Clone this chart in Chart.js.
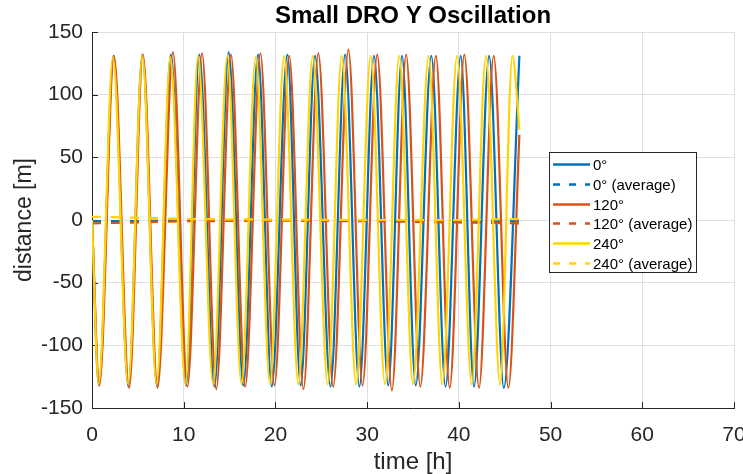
<!DOCTYPE html>
<html lang="en">
<head>
    <meta charset="UTF-8">
    <title>Small DRO Y Oscillation</title>
    <style>
        html, body{
            margin: 0;
            padding: 0;
            background: #fff;
        }
        .chart{
            position: relative;
            width: 743px;
            height: 474px;
        }
    </style>
</head>
<body>
    <div class="chart">
        <canvas id="myChart"></canvas>
    </div>
    <script src="https://cdn.jsdelivr.net/npm/chart.js@4.4.1/dist/chart.umd.min.js"></script>
    <script>
// peaks and troughs (time in h, distance in m)
const t0 = [0, 0.75, 2.35, 3.97, 5.5, 7.08, 8.6, 10.25, 11.7, 13.35, 14.9, 16.5, 18.1, 19.6, 21.3, 22.75, 24.32, 26.0, 27.6, 29.15, 30.75, 32.3, 33.8, 35.3, 37.0, 38.55, 40.2, 41.65, 43.3, 44.9, 46.6];
const y0 = [0, -132, 131, -133, 132, -132, 132, -132, 132, -133, 134, -132, 132, -133, 132, -132, 131, -133, 132, -133, 131, -132, 131, -132, 131, -133, 131, -133, 131, -134, 131];

const t120 = [0, 0.8, 2.4, 4.05, 5.55, 7.15, 8.83, 10.4, 12.0, 13.55, 15.15, 16.7, 18.36, 19.9, 21.5, 23.05, 24.68, 26.3, 27.96, 29.5, 31.1, 32.7, 34.25, 35.8, 37.5, 39.0, 40.6, 42.2, 43.8, 45.4, 46.6];
const y120 = [0, -132, 131, -134, 132, -134, 134, -133, 133, -135, 132, -133, 133, -132, 131, -135, 133, -133, 136, -132, 132, -136, 132, -133, 131, -134, 132, -134, 131, -134, 68];

const t240 = [0, 0.73, 2.29, 3.95, 5.49, 7.05, 8.54, 10.2, 11.56, 13.2, 14.75, 16.3, 17.85, 19.4, 20.95, 22.5, 24.07, 25.7, 27.23, 28.8, 30.39, 31.95, 33.5, 35.0, 36.7, 38.2, 39.8, 41.4, 42.95, 44.5, 45.84, 46.6];
const y240 = [0, -131, 130, -131, 131, -131, 130, -131, 131, -131, 131, -131, 130, -131, 131, -131, 131, -131, 131, -131, 131, -131, 131, -131, 131, -131, 131, -131, 131, -131, 131, 72];

// running averages
const tAvg = [0, 5, 10, 20, 30, 40, 46.6];
const avg0 = [-1, -0.8, -0.3, 0, 0, -0.5, -1];
const avg120 = [-2.7, -2, -1, -0.5, -1, -2, -2.7];
const avg240 = [2.6, 1.8, 0.8, 0.3, 0, 0, 0.8];

const xTicks = [0, 10, 20, 30, 40, 50, 60, 70];
const yTicks = [-150, -100, -50, 0, 50, 100, 150];

const labels = ["0°", "0° (average)", "120°", "120° (average)", "240°", "240° (average)"];
const colors = ["#0072BD", "#D95319", "#FFD400"];

const FONT = "'Liberation Sans', Arial, sans-serif";
const INK = "#262626";

const pts = (ts, ys) => ts.map((t, i) => ({x: t, y: ys[i]}));

function line(label, color, data, dashed, order){
    return {
        label: label,
        data: data,
        borderColor: color,
        backgroundColor: color,
        borderWidth: 2.2,
        borderDash: dashed ? [9, 10] : [],
        pointRadius: 0,
        fill: false,
        cubicInterpolationMode: dashed ? "default" : "monotone",
        tension: 0,
        order: order,
    };
}

const datasets = [
    line(labels[0], colors[0], pts(t0, y0), false, 5),
    line(labels[1], colors[0], pts(tAvg, avg0), true, 4),
    line(labels[2], colors[1], pts(t120, y120), false, 3),
    line(labels[3], colors[1], pts(tAvg, avg120), true, 2),
    line(labels[4], colors[2], pts(t240, y240), false, 1),
    line(labels[5], colors[2], pts(tAvg, avg240), true, 0),
];

// little inward tick marks, matlab style
const axisTicks = {
    id: "axisTicks",
    beforeDatasetsDraw(chart){
        const {ctx, chartArea: a, scales: {x, y}} = chart;
        ctx.save();
        ctx.strokeStyle = INK;
        ctx.lineWidth = 1;
        ctx.beginPath();
        xTicks.forEach(v => {
            const px = Math.round(x.getPixelForValue(v)) + 0.5;
            ctx.moveTo(px, a.bottom);
            ctx.lineTo(px, a.bottom - 6);
        });
        yTicks.forEach(v => {
            const py = Math.round(y.getPixelForValue(v)) + 0.5;
            ctx.moveTo(a.left, py);
            ctx.lineTo(a.left + 6, py);
        });
        ctx.stroke();
        ctx.restore();
    }
};

// boxed legend inside the axes
const boxLegend = {
    id: "boxLegend",
    afterDraw(chart){
        const ctx = chart.ctx;
        const L = 549.5, T = 152.5, W = 147, H = 120;
        ctx.save();
        ctx.fillStyle = "#fff";
        ctx.fillRect(L, T, W, H);
        ctx.strokeStyle = INK;
        ctx.lineWidth = 1;
        ctx.strokeRect(L, T, W, H);
        ctx.font = "15px " + FONT;
        ctx.textBaseline = "middle";
        ctx.textAlign = "left";
        chart.data.datasets.forEach((ds, i) => {
            const yy = Math.round(164 + i * 19.8) + 0.5;
            ctx.strokeStyle = ds.borderColor;
            ctx.lineWidth = 2.5;
            ctx.setLineDash(ds.borderDash.length ? [7, 9] : []);
            ctx.beginPath();
            ctx.moveTo(553, yy);
            ctx.lineTo(590, yy);
            ctx.stroke();
            ctx.setLineDash([]);
            ctx.fillStyle = "#000";
            ctx.fillText(ds.label, 593, yy + 1);
        });
        ctx.restore();
    }
};

const ctx = document.getElementById("myChart").getContext("2d");

const myChart = new Chart(ctx, {
    type: "line",
    data: {datasets: datasets},
    plugins: [axisTicks, boxLegend],
    options: {
        responsive: true,
        maintainAspectRatio: false,
        animation: false,
        parsing: false,
        layout: {padding: {left: 0, right: 9, top: 0, bottom: 0}},
        plugins: {
            legend: {display: false},
            tooltip: {enabled: false},
            title: {
                display: true,
                text: "Small DRO Y Oscillation",
                color: "#000",
                fullSize: false,
                font: {family: FONT, size: 24, weight: "bold", lineHeight: 0.9},
                padding: {top: 6, bottom: 4.4},
            },
        },
        scales: {
            x: {
                type: "linear",
                min: 0,
                max: 70,
                afterBuildTicks: s => { s.ticks = xTicks.map(v => ({value: v})); },
                afterFit: s => { s.height = 66; s.paddingLeft = 0; s.paddingRight = 0; },
                grid: {color: "#dfdfdf", drawTicks: false},
                border: {color: INK, width: 1},
                ticks: {color: INK, font: {family: FONT, size: 21}, padding: 15, maxRotation: 0, autoSkip: false},
                title: {
                    display: true,
                    text: "time [h]",
                    color: INK,
                    font: {family: FONT, size: 24, lineHeight: 0.8},
                    padding: {top: 0, bottom: 2.4},
                },
            },
            y: {
                type: "linear",
                min: -150,
                max: 150,
                afterBuildTicks: s => { s.ticks = yTicks.map(v => ({value: v})); },
                afterFit: s => { s.width = 92; s.paddingTop = 0; s.paddingBottom = 0; },
                grid: {color: "#dfdfdf", drawTicks: false},
                border: {color: INK, width: 1},
                ticks: {color: INK, font: {family: FONT, size: 21}, padding: 9},
                title: {
                    display: true,
                    text: "distance [m]",
                    color: INK,
                    font: {family: FONT, size: 23, lineHeight: 1.2},
                    padding: {top: 11, bottom: 0},
                },
            },
        },
    },
});
    </script>
</body>
</html>
